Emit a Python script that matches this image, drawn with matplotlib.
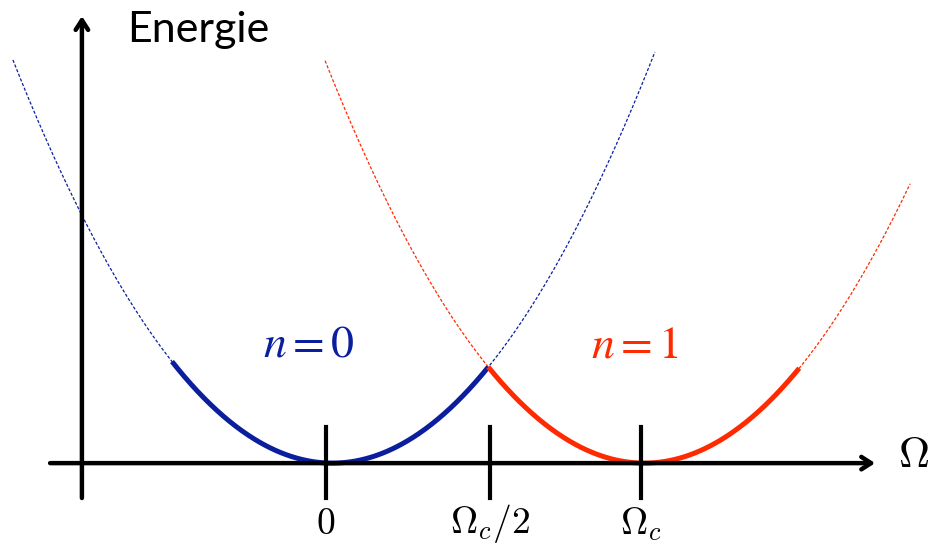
import numpy as np
import matplotlib
matplotlib.use("Agg")
import matplotlib.pyplot as plt

# =========================
# Data: two parabolic energy branches E_n(Omega) = (Omega - Omega_n)^2
# =========================

branch_labels = ["$n{=}0$", "$n{=}1$"]
branch_centers = [0.02, 1.01]            # parabola minima, units of Omega_c
dashed_ranges = [(-0.994, 1.044), (-0.003, 1.854)]
solid_ranges = [(-0.489, 0.515), (0.515, 1.502)]
branch_colors = ["#0A1E9E", "#FF2A00"]
label_pos = [(-0.055, 0.305), (0.98, 0.30)]

tick_values = [0.0, 0.52, 1.0]
tick_labels = ["$0$", r"$\Omega_c/2$", r"$\Omega_c$"]

plt.rcParams["mathtext.fontset"] = "cm"

fig = plt.figure(figsize=(9.29, 5.49), dpi=100)
ax = fig.add_axes([0, 0, 1, 1])
ax.set_xlim(-1.035, 1.914)
ax.set_ylim(-0.219, 1.181)
ax.axis("off")

# =========================
# Parabolas: thin dashed full curve, thick solid ground-state part
# =========================

for center, (d0, d1), (s0, s1), color in zip(branch_centers, dashed_ranges,
                                              solid_ranges, branch_colors):
    xd = np.linspace(d0, d1, 400)
    ax.plot(xd, (xd - center) ** 2, color=color, lw=0.9,
            linestyle=(0, (2.5, 1.5)), zorder=2)
    xs = np.linspace(s0, s1, 300)
    ax.plot(xs, (xs - center) ** 2, color=color, lw=3.6,
            solid_capstyle="butt", zorder=3)

for (lx, ly), text, color in zip(label_pos, branch_labels, branch_colors):
    ax.text(lx, ly, text, color=color, fontsize=33, ha="center", va="center",
            math_fontfamily="stix")

# =========================
# Axes drawn as arrows
# =========================

arrow_kw = dict(arrowstyle="->,head_length=0.7,head_width=0.45",
                color="black", lw=3.2, shrinkA=0, shrinkB=0)
ax.annotate("", xy=(1.743, 0), xytext=(-0.876, 0), arrowprops=arrow_kw)
ax.annotate("", xy=(-0.775, 1.14), xytext=(-0.775, -0.089), arrowprops=arrow_kw)

for tv, tl in zip(tick_values, tick_labels):
    ax.plot([tv, tv], [-0.089, 0.092], color="black", lw=3.0, zorder=4)
    ax.text(tv, -0.155, tl, fontsize=27, ha="center", va="center")

ax.text(1.865, 0.02, r"$\Omega$", fontsize=31, ha="center", va="center")
ax.text(-0.63, 1.074, "Energie", fontsize=31, family="Lato",
        ha="left", va="baseline")

fig.savefig("out.png", dpi=100)
